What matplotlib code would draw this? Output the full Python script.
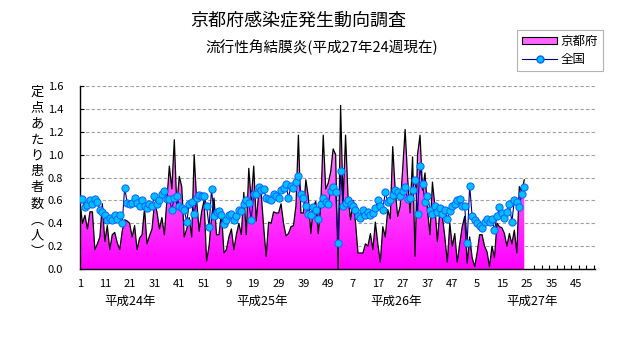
import numpy as np
import matplotlib.pyplot as plt
from matplotlib.colors import LinearSegmentedColormap
from matplotlib.lines import Line2D
from matplotlib.patches import Patch

plt.rcParams['font.family'] = ['Noto Sans CJK JP', 'DejaVu Sans']

# weekly values, 平成24年 week 1 .. 平成27年 week 24
kyoto = [0.58, 0.40, 0.47, 0.35, 0.50, 0.50, 0.17, 0.22, 0.28, 0.57, 0.24, 0.38,
         0.17, 0.30, 0.32, 0.23, 0.17, 0.33, 0.43, 0.42, 0.40, 0.28, 0.38, 0.17,
         0.27, 0.30, 0.53, 0.22, 0.29, 0.35, 0.57, 0.50, 0.35, 0.45, 0.30, 0.60,
         0.90, 0.70, 1.13, 0.55, 0.81, 0.72, 0.28, 0.35, 0.45, 0.28, 1.00, 0.60,
         0.33, 0.50, 0.60, 0.07,
         0.20, 0.45, 0.62, 0.30, 0.30, 0.50, 0.14, 0.17, 0.28, 0.35, 0.17, 0.30,
         0.40, 0.30, 0.67, 0.30, 0.88, 0.60, 0.90, 0.42, 0.66,
         0.66, 0.37, 0.11, 0.41, 0.40, 0.50, 0.49, 0.49, 0.57, 0.40, 0.29, 0.31,
         0.37, 0.38, 0.55, 1.17, 0.49, 0.49, 0.78, 0.63, 0.31, 0.55, 0.59, 0.31,
         0.55, 1.17, 0.70, 0.75, 0.85, 1.05, 1.00, 0.00, 1.43,
         0.57, 1.17, 0.63, 0.43, 0.60, 0.41, 0.14, 0.14, 0.14, 0.22, 0.20, 0.31,
         0.17, 0.41, 0.22, 0.06, 0.37, 0.28, 0.52, 0.44, 1.07, 0.69, 0.46, 0.55,
         0.87, 1.22, 0.80, 0.49, 0.98, 0.11, 1.00, 1.17, 0.69, 0.84, 0.52, 0.30,
         0.76, 0.55, 0.24, 0.52,
         0.46, 0.28, 0.06, 0.40, 0.20, 0.31, 0.06, 0.22, 0.37, 0.46, 0.05, 0.28,
         0.10, 0.02, 0.14, 0.30, 0.30, 0.20, 0.15, 0.02, 0.20, 0.10, 0.40, 0.37,
         0.36, 0.31, 0.20, 0.31, 0.22, 0.34, 0.14, 0.72, 0.68, 0.78]

national = [0.61, 0.61, 0.54, 0.56, 0.60, 0.57, 0.61, 0.59, 0.52, 0.50, 0.47, 0.43,
            0.45, 0.43, 0.47, 0.44, 0.47, 0.40, 0.71, 0.58, 0.57, 0.58, 0.62, 0.58,
            0.55, 0.60, 0.55, 0.53, 0.57, 0.55, 0.64, 0.57, 0.60, 0.66, 0.68, 0.61,
            0.61,
            0.52, 0.62, 0.64, 0.55, 0.53, 0.52, 0.41, 0.57, 0.59, 0.48, 0.62, 0.65,
            0.64, 0.64, 0.55, 0.37, 0.70, 0.46, 0.50, 0.51, 0.47, 0.39, 0.43, 0.47,
            0.48, 0.43, 0.46, 0.52, 0.51, 0.57, 0.60, 0.58, 0.43, 0.66, 0.66, 0.72,
            0.69, 0.70, 0.62, 0.61, 0.60, 0.66, 0.64, 0.62, 0.69, 0.71, 0.74, 0.62,
            0.73, 0.71, 0.76, 0.81,
            0.66, 0.62, 0.55, 0.48, 0.47, 0.54, 0.52, 0.44, 0.57, 0.62, 0.59, 0.57,
            0.68, 0.72, 0.67, 0.23, 0.86, 0.55, 0.58, 0.60,
            0.57, 0.55, 0.52, 0.46, 0.45, 0.52, 0.47, 0.50, 0.47, 0.49, 0.53, 0.60,
            0.55, 0.52, 0.67, 0.59, 0.60, 0.65, 0.69, 0.67, 0.64, 0.68, 0.72, 0.61,
            0.62, 0.69, 0.78, 0.48, 0.90, 0.74, 0.59, 0.64, 0.52, 0.48, 0.55, 0.50,
            0.53,
            0.48, 0.52, 0.44, 0.51, 0.55, 0.57, 0.60, 0.61, 0.55, 0.55, 0.23, 0.73,
            0.46, 0.43, 0.40, 0.38, 0.36, 0.41, 0.44, 0.41, 0.44, 0.34, 0.46, 0.54,
            0.49, 0.45, 0.50, 0.57, 0.41, 0.60, 0.59, 0.54, 0.66, 0.72]

week_labels = ['1', '11', '21', '31', '41', '51', '9', '19', '29', '39', '49',
               '7', '17', '27', '37', '47', '5', '15', '25', '35', '45']
year_labels = ['平成24年', '平成25年', '平成26年', '平成27年']
year_pos = [20, 73.5, 127.5, 182]

x = np.arange(len(kyoto))

fig = plt.figure(figsize=(6.31, 3.47), dpi=100)
ax = fig.add_axes([80 / 631, 1 - 269 / 347, 515 / 631, 183 / 347])

# pink area with a vertical gradient
area = ax.fill_between(x, kyoto, 0, facecolor='none', edgecolor='none')
grad = np.linspace(0, 1, 256).reshape(-1, 1)
cmap = LinearSegmentedColormap.from_list('pk', ['#ff00ff', '#ff9cff'])
im = ax.imshow(grad, extent=[0, x[-1], 0, 1.3], origin='lower', aspect='auto',
               cmap=cmap, zorder=1)
im.set_clip_path(area.get_paths()[0], transform=ax.transData)
ax.plot(x, kyoto, color='black', lw=0.9, zorder=2)

ax.plot(x, national, color='#000080', lw=0.8, marker='o', ms=5.2,
        mfc='#00bfff', mec='#1060ff', mew=0.7, zorder=3)

ax.set_xlim(0, 207.5)
ax.set_ylim(0, 1.6)
ax.set_yticks(np.arange(0, 1.61, 0.2))
ax.set_yticklabels(['%.1f' % v for v in np.arange(0, 1.61, 0.2)], fontsize=8)
ax.set_xticks(np.arange(0, 201, 10))
ax.set_xticklabels(week_labels, fontsize=8)
ax.set_xticks(np.arange(0, 208, 3), minor=True)
ax.tick_params(axis='x', which='major', length=0, pad=7)
ax.tick_params(axis='x', which='minor', direction='in', length=3, width=0.8)
ax.tick_params(axis='y', direction='in', length=3, width=0.8, pad=12)

ax.yaxis.grid(True, linestyle=(0, (3, 2)), color='#a0a0a0', lw=0.8)
ax.set_axisbelow(True)
for s in ['top', 'right']:
    ax.spines[s].set_visible(False)
for s in ['left', 'bottom']:
    ax.spines[s].set_linewidth(1.0)

for lab, pos in zip(year_labels, year_pos):
    ax.text(pos, -0.175, lab, transform=ax.get_xaxis_transform(),
            ha='center', va='center', fontsize=9)

fig.text(298 / 631, 1 - 20 / 347, '京都府感染症発生動向調査', ha='center',
         va='center', fontsize=13)
fig.text(322 / 631, 1 - 47 / 347, '流行性角結膜炎(平成27年24週現在)',
         ha='center', va='center', fontsize=10.5)

# vertical y label, one character per line
ylab = '定点あたり患者数︵人︶'
for k, ch in enumerate(ylab):
    fig.text(37 / 631, 1 - (92 + 16 * k) / 347, ch, ha='center', va='center',
             fontsize=9.5)

handles = [Patch(facecolor='#ff66ff', edgecolor='black', lw=0.8),
           Line2D([], [], color='#000080', lw=0.8, marker='o', ms=5,
                  mfc='#00bfff', mec='#1060ff')]
leg = fig.legend(handles, ['京都府', '全国'], loc='upper left',
                 bbox_to_anchor=(517 / 631, 1 - 30 / 347), fontsize=9,
                 frameon=True, fancybox=False, handlelength=2.8,
                 handleheight=0.5, handletextpad=0.25, borderpad=0.4,
                 labelspacing=0.4, borderaxespad=0)
leg.get_frame().set_edgecolor('#a0a0a0')
leg.get_frame().set_linewidth(0.8)

fig.savefig('out.png', dpi=100)
